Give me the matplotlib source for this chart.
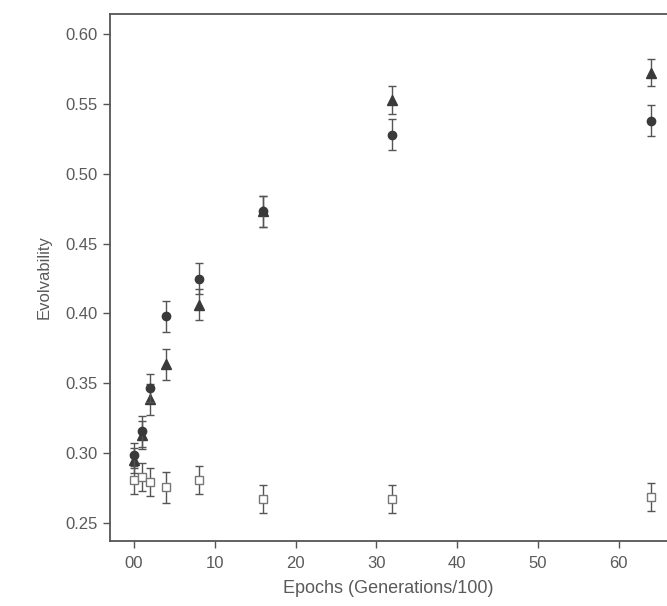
import numpy as np
import matplotlib
matplotlib.use('Agg')
import matplotlib.pyplot as plt

plt.rcParams['font.family'] = ['Liberation Sans', 'DejaVu Sans']

# Epochs (generations/100)
epochs = [0, 1, 2, 4, 8, 16, 32, 64]

# filled circles
circ_y = [0.2986, 0.3157, 0.3467, 0.398, 0.425, 0.473, 0.528, 0.538]
circ_err = [0.009, 0.011, 0.010, 0.011, 0.011, 0.011, 0.011, 0.011]

# filled triangles
tri_y = [0.295, 0.313, 0.3386, 0.3636, 0.4064, 0.473, 0.553, 0.5724]
tri_err = [0.009, 0.010, 0.011, 0.011, 0.011, 0.011, 0.010, 0.010]

# open squares
sq_y = [0.2807, 0.2829, 0.2793, 0.2757, 0.281, 0.267, 0.267, 0.2686]
sq_err = [0.010, 0.010, 0.010, 0.011, 0.010, 0.010, 0.010, 0.010]

xticks = [0, 10, 20, 30, 40, 50, 60]
xticklabels = ['00', '10', '20', '30', '40', '50', '60']
yticks = [0.25, 0.30, 0.35, 0.40, 0.45, 0.50, 0.55, 0.60]

text_col = '#5a5a5a'
mark_col = '#3a3a3a'

fig = plt.figure(figsize=(6.67, 6.06), dpi=100)
ax = fig.add_axes([0.165, 0.107, 0.835, 0.870])

eb = dict(ecolor='#555555', elinewidth=1.0, capsize=3, capthick=1.0, linestyle='none')
ax.errorbar(epochs, sq_y, yerr=sq_err, fmt='s', ms=6, mfc='white', mec='#777777', mew=1.0, zorder=2, **eb)
ax.errorbar(epochs, tri_y, yerr=tri_err, fmt='^', ms=6.5, mfc=mark_col, mec=mark_col, zorder=3, **eb)
ax.errorbar(epochs, circ_y, yerr=circ_err, fmt='o', ms=6, mfc=mark_col, mec=mark_col, zorder=4, **eb)

ax.set_xlim(-2.97, 66.0)
ax.set_ylim(0.2371, 0.6143)
ax.set_xticks(xticks)
ax.set_xticklabels(xticklabels)
ax.set_yticks(yticks)
ax.set_yticklabels([f'{v:.2f}' for v in yticks])

for side in ['left', 'bottom', 'top']:
    ax.spines[side].set_color('#555555')
    ax.spines[side].set_linewidth(1.3)
ax.spines['right'].set_visible(False)

ax.tick_params(axis='both', colors='#555555', labelcolor=text_col, labelsize=12, length=5, width=1.0)
ax.tick_params(axis='y', pad=4)
ax.tick_params(axis='x', pad=6)

ax.set_xlabel('Epochs (Generations/100)', fontsize=13, color=text_col, labelpad=6)
ax.set_ylabel('Evolvability', fontsize=12, color=text_col, labelpad=10)

fig.savefig('out.png', dpi=100)
